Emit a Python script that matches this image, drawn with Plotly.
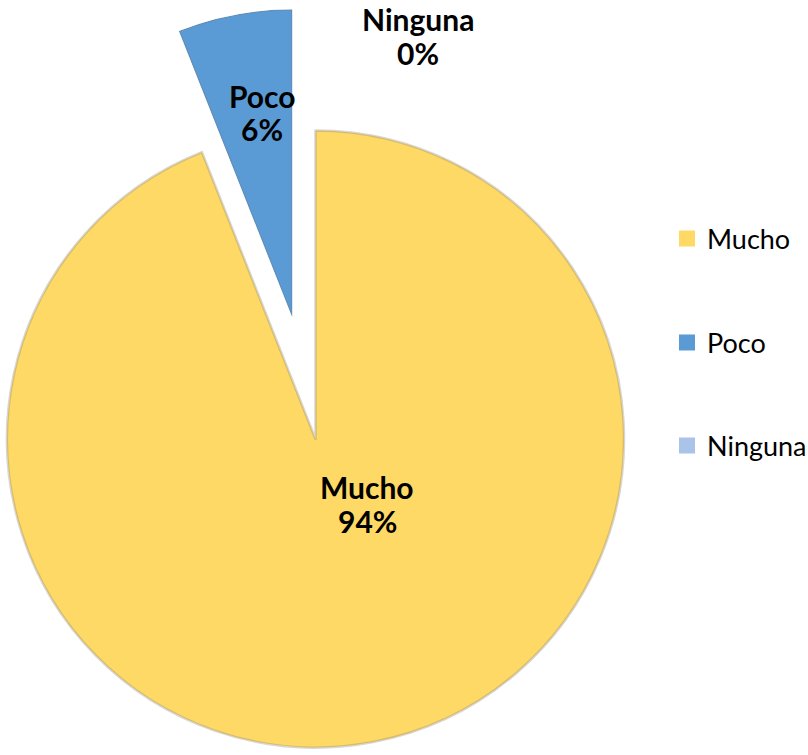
import math
import plotly.graph_objects as go

# ---- data ----
categories = ["Mucho", "Poco", "Ninguna"]
shares = [94, 6, 0]
colors = ["#FFD966", "#5B9BD5", "#A9C4E8"]
exploded = "Poco"

# ---- layout constants (px) ----
W, H = 808, 755
CX, CY, R = 315.5, 439.0, 308.5     # centre and radius of the pie
PULL = 0.40                         # offset of the exploded wedge, fraction of R
FONT = "Lato"
EDGE = dict(color="rgba(110,110,110,0.28)", width=2.5)   # soft edge around slices

total = sum(shares)
fracs = [s / total for s in shares]
starts = [sum(fracs[:i]) for i in range(len(fracs))]
ends = [starts[i] + fracs[i] for i in range(len(fracs))]
k = categories.index(exploded)


def px_domain(x0, x1, ytop, ybot):
    return dict(x=[x0 / W, x1 / W], y=[1 - ybot / H, 1 - ytop / H])


def sector_bbox(a0, a1):
    """Bounding box (unit circle) of a sector from a0 to a1 degrees (ccw, 0 = east)."""
    pts = [(0.0, 0.0)]
    for a in (a0, a1):
        pts.append((math.cos(math.radians(a)), math.sin(math.radians(a))))
    for c in (0, 90, 180, 270, 360, 450, 540, 630):
        if a0 <= c <= a1:
            pts.append((math.cos(math.radians(c)), math.sin(math.radians(c))))
    xs = [p[0] for p in pts]
    ys = [p[1] for p in pts]
    return min(xs), min(ys), max(xs), max(ys)


fig = go.Figure()

# main pie: exploded slice left transparent, drawn separately below
pie_colors = [("rgba(0,0,0,0)" if c == exploded else col) for c, col in zip(categories, colors)]
pie_lw = [(0 if (c == exploded or s == 0) else EDGE["width"]) for c, s in zip(categories, shares)]
fig.add_trace(go.Pie(
    labels=categories, values=shares, sort=False, direction="clockwise", rotation=0,
    marker=dict(colors=pie_colors, line=dict(width=pie_lw, color=EDGE["color"])),
    textinfo="none", hoverinfo="label+percent", showlegend=False,
    domain=px_domain(CX - R, CX + R, CY - R, CY + R),
))

# exploded wedge as a polar bar on its own sector-shaped subplot
t0, t1 = 360 * starts[k], 360 * ends[k]
tmid = (t0 + t1) / 2
ax_px = CX + PULL * R * math.sin(math.radians(tmid))
ay_px = CY - PULL * R * math.cos(math.radians(tmid))
s0 = (90 - t1) % 360
s1 = s0 + (t1 - t0)
bx0, by0, bx1, by1 = sector_bbox(s0, s1)

fig.add_trace(go.Barpolar(
    r=[1], theta=[tmid], width=[t1 - t0], name=exploded,
    marker=dict(color=colors[k], line=EDGE),
    showlegend=False, subplot="polar",
))

fig.update_layout(polar=dict(
    domain=px_domain(ax_px + R * bx0, ax_px + R * bx1, ay_px - R * by1, ay_px - R * by0),
    sector=[s0, s1], hole=0, bgcolor="rgba(0,0,0,0)",
    angularaxis=dict(rotation=90, direction="clockwise", visible=False),
    radialaxis=dict(range=[0, 1], visible=False),
))

# slice labels
label_pos = {  # (x centre, y of name line, y of percent line) in px
    "Mucho": (367, 487, 521),
    "Poco": (262, 96, 129),
    "Ninguna": (418, 19, 53),
}
for cat, s in zip(categories, shares):
    x, y1, y2 = label_pos[cat]
    pct = round(100 * s / total)
    for txt, yy in ((cat, y1), (f"{pct}%", y2)):
        fig.add_annotation(
            x=x / W, y=1 - yy / H, xref="paper", yref="paper",
            text=f"<b>{txt}</b>", showarrow=False, xanchor="center", yanchor="middle",
            font=dict(family=FONT, size=30, color="#000000"),
        )

# legend entries, one legend per category
legend_y = [239, 343, 446]
legend_names = ["legend", "legend2", "legend3"]
for cat, col, ly, ln in zip(categories, colors, legend_y, legend_names):
    fig.add_trace(go.Scatter(
        x=[None], y=[None], mode="markers", name=cat, legend=ln,
        marker=dict(symbol="square", size=16, color=col),
    ))
    fig.update_layout({ln: dict(
        x=667 / W, y=1 - ly / H, xanchor="left", yanchor="middle",
        bgcolor="rgba(0,0,0,0)", borderwidth=0,
        font=dict(family=FONT, size=27, color="#000000"),
    )})

fig.update_xaxes(visible=False)
fig.update_yaxes(visible=False)
fig.update_layout(
    width=W, height=H, autosize=False,
    margin=dict(l=0, r=0, t=0, b=0, autoexpand=False),
    paper_bgcolor="white", plot_bgcolor="white",
)

fig.write_html("out.html")
